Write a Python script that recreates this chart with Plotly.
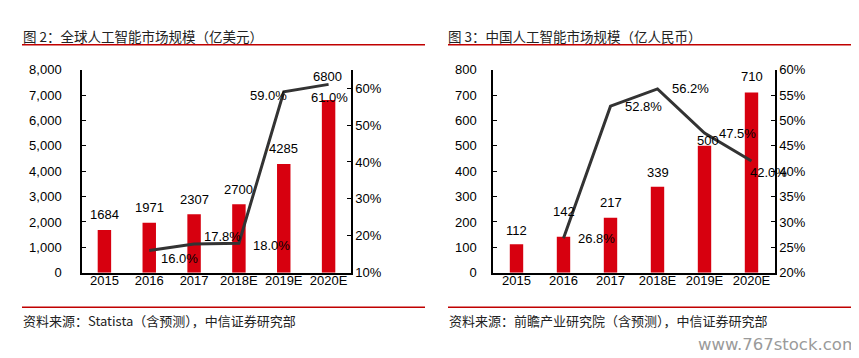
import plotly.graph_objects as go

# ---------------- data ----------------
years = ["2015", "2016", "2017", "2018E", "2019E", "2020E"]

global_size = [1684, 1971, 2307, 2700, 4285, 6800]          # 亿美元
global_growth_years = ["2016", "2017", "2018E", "2019E", "2020E"]
global_growth = [0.160, 0.178, 0.180, 0.590, 0.610]

china_size = [112, 142, 217, 339, 500, 710]                  # 亿人民币
china_growth_years = ["2016", "2017", "2018E", "2019E", "2020E"]
china_growth = [0.268, 0.528, 0.562, 0.475, 0.420]

left_title = "图 2：全球人工智能市场规模（亿美元）"
right_title = "图 3：中国人工智能市场规模（亿人民币）"
left_source = "资料来源：Statista（含预测），中信证券研究部"
right_source = "资料来源：前瞻产业研究院（含预测），中信证券研究部"
watermark = "www.767stock.com"

# ---------------- styling ----------------
W, H = 859, 358
RED = "#D7000F"
LINE = "#333333"
DARKRED = "#C00000"
NUM_FONT = "Liberation Sans, Arial, sans-serif"
CJK_FONT = "Noto Sans CJK SC, sans-serif"

# label shifts (px) chosen to mimic the hand-placed labels
g_bar_shift = [15, 15, 15, 15, 15, 24]
g_bar_xshift = [0, 0, 0, 0, 0, -1]
g_line_shift = [(30, -8), (28, 7), (33, -2), (-15, -4), (1, -13)]
c_bar_shift = [14, 25, 15, 14, 5, 16]
c_bar_xshift = [0, 0, 0, 0, 3, 0]
c_line_shift = [(33, 0), (33, 0), (33, 0), (33, 0), (17, -11)]

# category positions on the axis (index of each category)
pos = {name: i for i, name in enumerate(years)}
bar_x = [pos[y] for y in years]
g_line_x = [pos[y] for y in global_growth_years]
c_line_x = [pos[y] for y in china_growth_years]


def px_x(p):
    return p / W


def px_y(p):
    return 1 - p / H


fig = go.Figure()

fig.add_trace(go.Bar(x=bar_x, y=global_size, marker=dict(color=RED, line=dict(width=0)),
                     width=0.3, xaxis="x", yaxis="y", hoverinfo="skip"))
fig.add_trace(go.Scatter(x=g_line_x, y=global_growth, mode="lines",
                         line=dict(color=LINE, width=3), xaxis="x", yaxis="y2",
                         hoverinfo="skip"))
fig.add_trace(go.Bar(x=bar_x, y=china_size, marker=dict(color=RED, line=dict(width=0)),
                     width=0.285, xaxis="x2", yaxis="y3", hoverinfo="skip"))
fig.add_trace(go.Scatter(x=c_line_x, y=china_growth, mode="lines",
                         line=dict(color=LINE, width=3), xaxis="x2", yaxis="y4",
                         hoverinfo="skip"))

annotations = []
tick_font = dict(family=NUM_FONT, size=13, color="#000000")

for x, v, ys, xs in zip(bar_x, global_size, g_bar_shift, g_bar_xshift):
    annotations.append(dict(x=x, y=v, xref="x", yref="y", text=str(v), showarrow=False,
                            yanchor="middle", yshift=ys, xshift=xs, font=tick_font))
for x, v, (xs, ys) in zip(g_line_x, global_growth, g_line_shift):
    annotations.append(dict(x=x, y=v, xref="x", yref="y2", text=f"{v*100:.1f}%",
                            showarrow=False, xshift=xs, yshift=ys, font=tick_font))
for x, v, ys, xs in zip(bar_x, china_size, c_bar_shift, c_bar_xshift):
    annotations.append(dict(x=x, y=v, xref="x2", yref="y3", text=str(v), showarrow=False,
                            yanchor="middle", yshift=ys, xshift=xs, font=tick_font))
for x, v, (xs, ys) in zip(c_line_x, china_growth, c_line_shift):
    annotations.append(dict(x=x, y=v, xref="x2", yref="y4", text=f"{v*100:.1f}%",
                            showarrow=False, xshift=xs, yshift=ys, font=tick_font))

title_font = dict(family=CJK_FONT, size=13.5, color="#222222")
src_font = dict(family=CJK_FONT, size=13, color="#222222")
annotations += [
    dict(x=px_x(13), y=px_y(22), xref="paper", yref="paper", text=left_title,
         showarrow=False, xanchor="left", yanchor="middle", font=title_font),
    dict(x=px_x(438), y=px_y(22), xref="paper", yref="paper", text=right_title,
         showarrow=False, xanchor="left", yanchor="middle", font=title_font),
    dict(x=px_x(13), y=px_y(319), xref="paper", yref="paper", text=left_source,
         showarrow=False, xanchor="left", yanchor="middle", font=src_font),
    dict(x=px_x(439), y=px_y(319), xref="paper", yref="paper", text=right_source,
         showarrow=False, xanchor="left", yanchor="middle", font=src_font),
    dict(x=px_x(852), y=px_y(344), xref="paper", yref="paper", text=watermark,
         showarrow=False, xanchor="right", yanchor="middle",
         font=dict(family="DejaVu Sans, sans-serif", size=16.5, color="#9a9a9a")),
]

shapes = []
for x0, x1, y in [(14, 417, 31), (440, 843, 31), (14, 417, 305), (440, 843, 305)]:
    shapes.append(dict(type="line", xref="paper", yref="paper", x0=px_x(x0), x1=px_x(x1),
                       y0=px_y(y), y1=px_y(y), line=dict(color=DARKRED, width=1.5)))

ydom = [px_y(269), px_y(57)]
axis_common = dict(showgrid=False, zeroline=False, showline=True, linecolor="#000000",
                   linewidth=1.5, tickfont=tick_font, fixedrange=True)
xcommon = dict(ticks="", ticklen=0, type="linear", range=[-0.5, len(years) - 0.5],
               tickvals=bar_x, ticktext=years, ticklabelstandoff=-5, **axis_common)

fig.update_layout(
    width=W, height=H, autosize=False,
    margin=dict(l=0, r=0, t=0, b=0),
    paper_bgcolor="white", plot_bgcolor="white",
    showlegend=False,
    xaxis=dict(domain=[px_x(74), px_x(343)], anchor="y", **xcommon),
    yaxis=dict(domain=ydom, anchor="x", range=[0, 8000], dtick=1000, tickformat=",",
               ticks="inside", ticklen=4, tickcolor="#000000", ticklabelstandoff=16,
               **axis_common),
    yaxis2=dict(overlaying="y", side="right", anchor="x", range=[0.10, 0.65],
                tickvals=[0.1, 0.2, 0.3, 0.4, 0.5, 0.6], tickformat=".0%",
                ticks="inside", ticklen=4, tickcolor="#000000", ticklabelstandoff=0,
                **axis_common),
    xaxis2=dict(domain=[px_x(485), px_x(767)], anchor="y3", **xcommon),
    yaxis3=dict(domain=ydom, anchor="x2", range=[0, 800], dtick=100,
                ticks="inside", ticklen=4, tickcolor="#000000", ticklabelstandoff=12,
                **axis_common),
    yaxis4=dict(overlaying="y3", side="right", anchor="x2", range=[0.20, 0.60],
                dtick=0.05, tickformat=".0%",
                ticks="inside", ticklen=4, tickcolor="#000000", ticklabelstandoff=0,
                **axis_common),
    annotations=annotations,
    shapes=shapes,
)

fig.write_html("out.html")
